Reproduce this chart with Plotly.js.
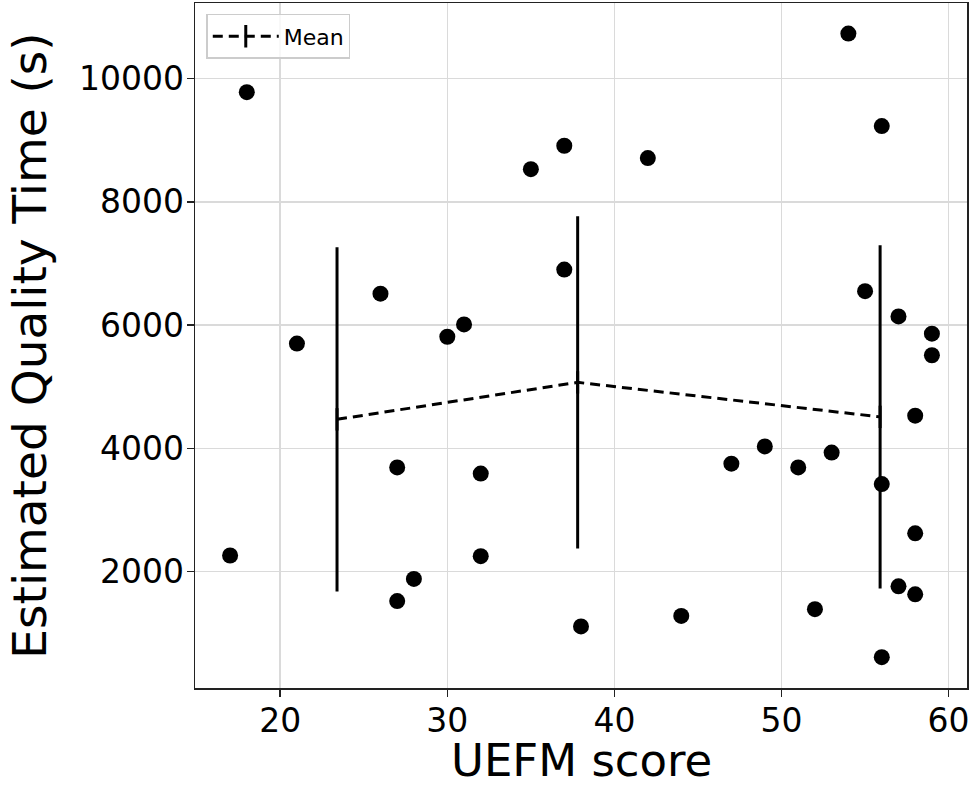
<!DOCTYPE html>
<html>
<head>
<meta charset="utf-8">
<script src="https://cdn.plot.ly/plotly-3.0.1.min.js"></script>
<style>html,body{margin:0;padding:0;background:#fff;}#chart{width:970px;height:791px;}</style>
</head>
<body>
<div id="chart"></div>
<script>
// Individual participants
const uefmScore = [17,18,21,26,27,27,28,30,31,32,32,35,37,37,38,42,44,47,49,51,52,53,54,55,56,56,56,57,57,58,58,58,59,59];
const qualityTime = [2260,9780,5700,6510,3690,1520,1880,5810,6010,3590,2250,8530,8910,6900,1110,8710,1280,3750,4030,3690,1390,3930,10730,6550,9230,3420,610,6140,1760,4530,2620,1630,5860,5510];

// Group means with spread
const meanScore = [23.4, 37.8, 55.9];
const meanTime = [4470, 5070, 4510];
const meanErr = [2795, 2695, 2785];

const xTicks = [20, 30, 40, 50, 60];
const yTicks = [2000, 4000, 6000, 8000, 10000];

const FONT = 'DejaVu Sans, sans-serif';

const traces = [
  {
    x: uefmScore, y: qualityTime, type: 'scatter', mode: 'markers',
    marker: {color: '#000000', size: 16},
    showlegend: false, hoverinfo: 'x+y'
  },
  {
    x: meanScore, y: meanTime, type: 'scatter', mode: 'lines+markers',
    name: 'Mean',
    line: {color: '#000000', width: 3, dash: '10px,6px'},
    marker: {symbol: 'line-ns-open', size: 16, color: '#000000', line: {color: '#000000', width: 3}},
    error_y: {type: 'data', array: meanErr, visible: true, color: '#000000', thickness: 3, width: 0}
  }
];

const layout = {
  width: 970, height: 791,
  margin: {l: 195, r: 3, t: 3, b: 103},
  paper_bgcolor: '#ffffff', plot_bgcolor: '#ffffff',
  font: {family: FONT, color: '#000000'},
  showlegend: true,
  legend: {
    x: 0.0146, y: 0.984, xanchor: 'left', yanchor: 'top',
    bgcolor: 'rgba(255,255,255,0.8)', bordercolor: '#cccccc', borderwidth: 1.5,
    itemwidth: 66,
    font: {family: FONT, size: 22, color: '#000000'}
  },
  annotations: [{
    text: 'UEFM score', xref: 'paper', yref: 'paper', x: 0.5, y: -0.0652,
    xanchor: 'center', yanchor: 'top', showarrow: false, borderpad: 0,
    font: {family: FONT, size: 45, color: '#000000'}
  }],
  xaxis: {
    range: [14.9, 61.1], tickvals: xTicks, ticktext: xTicks.map(String),
    showgrid: true, gridcolor: '#dadada', gridwidth: 1.5,
    zeroline: false, showline: true, linecolor: '#222222', linewidth: 1.5, mirror: true,
    ticks: 'outside', ticklen: 7, tickwidth: 1.5, tickcolor: '#222222',
    ticklabelstandoff: -4,
    ticklabeloverflow: 'allow',
    tickfont: {family: FONT, size: 33, color: '#000000'},
    automargin: false
  },
  yaxis: {
    range: [110, 11227], tickvals: yTicks, ticktext: yTicks.map(String),
    showgrid: true, gridcolor: '#dadada', gridwidth: 1.5,
    zeroline: false, showline: true, linecolor: '#222222', linewidth: 1.5, mirror: true,
    ticks: 'outside', ticklen: 7, tickwidth: 1.5, tickcolor: '#222222',
    ticklabelstandoff: -4,
    ticklabeloverflow: 'allow',
    tickfont: {family: FONT, size: 33, color: '#000000'},
    title: {text: 'Estimated Quality Time (s)', font: {family: FONT, size: 47, color: '#000000'}, standoff: 17},
    automargin: false
  }
};

Plotly.newPlot('chart', traces, layout, {displayModeBar: false, staticPlot: true});
</script>
</body>
</html>
